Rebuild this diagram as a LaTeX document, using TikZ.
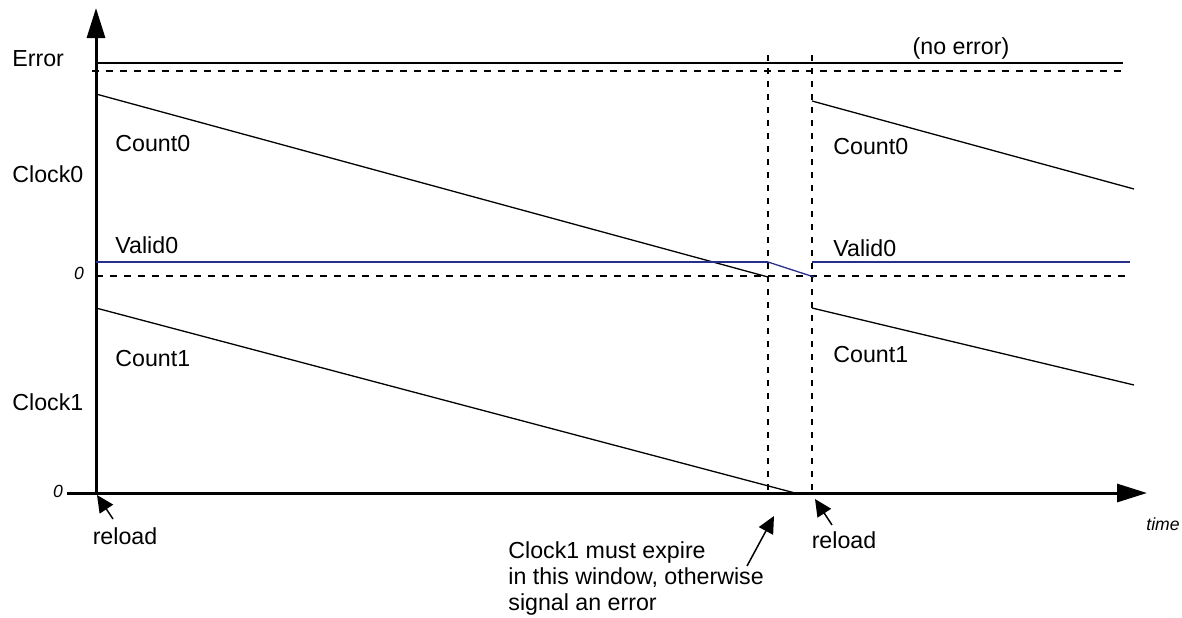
\documentclass[tikz,border=0pt]{standalone}
\usepackage{fontspec}
\setmainfont{Liberation Sans}
\usepackage{tikz}
\usetikzlibrary{arrows.meta}
\definecolor{validblue}{RGB}{38,48,140}

\begin{document}
\begin{tikzpicture}[x=0.5pt, y=-0.5pt,
    lbl/.style={font=\fontsize{11.6}{13}\selectfont, inner sep=0pt},
    zerolbl/.style={font=\fontsize{8.8}{10}\selectfont\itshape, inner sep=0pt},
    axis/.style={line width=1.5pt, -{Triangle[length=15pt,width=9pt]}},
    count/.style={line width=0.65pt},
    zero/.style={line width=1.2pt, dash pattern=on 3.5pt off 3.5pt},
    window/.style={line width=1.2pt, dash pattern=on 3pt off 3.5pt},
    pointer/.style={line width=0.75pt, -{Triangle[length=8.5pt,width=8pt]}}]

    % ==========================================
    % POSITIONS (one unit = one pixel of the figure)
    % ==========================================
    \pgfmathsetmacro{\xO}{96}       % time origin (vertical axis)
    \pgfmathsetmacro{\xW}{768}      % start of the expiry window
    \pgfmathsetmacro{\xR}{812}      % reload instant
    \pgfmathsetmacro{\xEnd}{1134}   % end of the counter ramps
    \pgfmathsetmacro{\yErr}{63}     % Error signal level
    \pgfmathsetmacro{\yErrDash}{71} % Error zero level
    \pgfmathsetmacro{\yValid}{262}  % Valid0 level
    \pgfmathsetmacro{\yZero}{276}   % Clock0 zero level
    \pgfmathsetmacro{\yAxis}{493}   % Clock1 zero level / time axis
    \pgfmathsetmacro{\xLbl}{115}    % left edge of the signal names
    \pgfmathsetmacro{\xLblR}{833}   % same, after the reload
    % ==========================================

    \useasboundingbox (0,0) rectangle (1182,617);

    % Axes
    \draw[axis] (67,\yAxis) -- (1147,\yAxis);
    \draw[axis] (\xO,\yAxis) -- (\xO,8);

    % Error signal (stays high)
    \draw[line width=1pt] (\xO,\yErr) -- (1123,\yErr);
    \draw[zero] (92,\yErrDash) -- (1123,\yErrDash);

    % Window boundaries
    \draw[window] (\xW,55) -- (\xW,\yAxis);
    \draw[window] (\xR,55) -- (\xR,\yAxis);

    % Clock0 ramps and zero line
    \draw[zero] (\xO,\yZero) -- (1128,\yZero);
    \draw[count] (\xO,94) -- (\xW,277);
    \draw[count] (\xR,101) -- (\xEnd,189);

    % Valid0
    \draw[validblue, line width=1pt] (\xO,\yValid) -- (\xW,\yValid);
    \draw[validblue, line width=0.65pt] (\xW,\yValid) -- (\xR+2,\yZero+1);
    \draw[validblue, line width=1pt] (\xR,\yValid) -- (1130,\yValid);

    % Clock1 ramps
    \draw[count] (\xO,308) -- (795,\yAxis);
    \draw[count] (\xR,308) -- (\xEnd,385);

    % Signal names
    \node[lbl, anchor=west] (errlbl) at (12,59) {Error};
    \node[lbl, anchor=west] (clkzerolbl) at (12,174) {Clock0};
    \node[lbl, anchor=west] (clkonelbl) at (12,402) {Clock1};
    \node[zerolbl] (zeroa) at (79,273) {0};
    \node[zerolbl] (zerob) at (58,491) {0};

    \node[lbl, anchor=west] (cntzeroa) at (\xLbl,144) {Count0};
    \node[lbl, anchor=west] (valzeroa) at (\xLbl,245) {Valid0};
    \node[lbl, anchor=west] (cntonea) at (\xLbl,359) {Count1};
    \node[lbl, anchor=west] (cntzerob) at (\xLblR,147) {Count0};
    \node[lbl, anchor=west] (valzerob) at (\xLblR,248) {Valid0};
    \node[lbl, anchor=west] (cntoneb) at (\xLblR,355) {Count1};
    \node[lbl] (noerr) at (961,48) {(no error)};
    \node[zerolbl] (timelbl) at (1163,524) {time};

    % Reload and window annotations
    \node[lbl] (reloada) at (125,536) {reload};
    \node[lbl] (reloadb) at (844,540) {reload};
    \node[lbl, align=left, anchor=north west] (winlbl) at (508,541)
        {Clock1 must expire\\in this window, otherwise\\signal an error};

    \coordinate (reloadatip) at (97,495);
    \coordinate (reloadatail) at (113,519);
    \coordinate (reloadbtip) at (815,499);
    \coordinate (reloadbtail) at (832,525);
    \coordinate (wintip) at (774,516);
    \coordinate (wintail) at (747,566);
    \draw[pointer] (reloadatail) -- (reloadatip);
    \draw[pointer] (reloadbtail) -- (reloadbtip);
    \draw[pointer] (wintail) -- (wintip);

\end{tikzpicture}
\end{document}
